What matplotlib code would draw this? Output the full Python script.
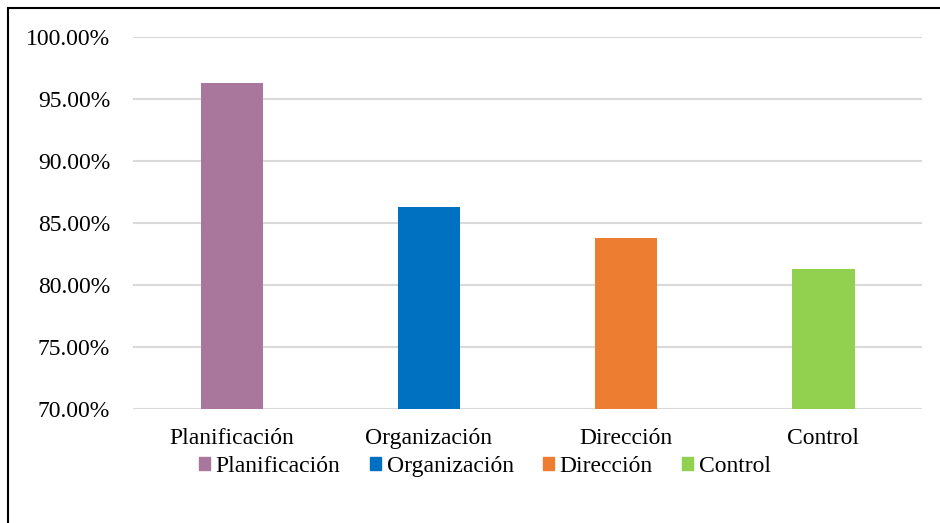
import matplotlib.pyplot as plt
from matplotlib.patches import Rectangle, Patch
from matplotlib.ticker import FuncFormatter

categorias = ["Planificación", "Organización", "Dirección", "Control"]
valores = [96.3, 86.3, 83.8, 81.3]
colores = ["#A9779B", "#0070C0", "#ED7D31", "#92D050"]
yticks = [70, 75, 80, 85, 90, 95, 100]

plt.rcParams['font.family'] = ['Liberation Serif', 'DejaVu Serif']

fig = plt.figure(figsize=(9.4, 5.23), dpi=100)
ax = fig.add_axes([0.1415, 0.218, 0.8395, 0.711])

x = range(len(categorias))
ax.bar(x, valores, width=0.315, color=colores, zorder=3)

ax.set_ylim(70, 100)
ax.set_xlim(-0.5, len(categorias) - 0.5)
ax.set_yticks(yticks)
ax.yaxis.set_major_formatter(FuncFormatter(lambda v, p: f"{v:.2f}%"))
ax.set_xticks(list(x))
ax.set_xticklabels(categorias)
ax.grid(axis='y', color='#D9D9D9', linewidth=1.5, zorder=0)
ax.tick_params(axis='both', length=0, labelsize=17, colors='black')
ax.tick_params(axis='x', pad=14)
ax.tick_params(axis='y', pad=16.5)
for s in ax.spines.values():
    s.set_visible(False)

handles = [Patch(color=c, label=n) for c, n in zip(colores, categorias)]
fig.legend(handles=handles, loc='center', bbox_to_anchor=(0.516, 0.108), ncol=4,
           frameon=False, fontsize=17, handlelength=0.45, handleheight=0.45,
           handletextpad=0.25, columnspacing=1.25)

fig.patches.append(Rectangle((8 / 940, -0.01), 1.0, 1 - 8 / 523 + 0.01,
                             transform=fig.transFigure, fill=False,
                             edgecolor='black', linewidth=1.5))

fig.savefig("out.png", dpi=100)
